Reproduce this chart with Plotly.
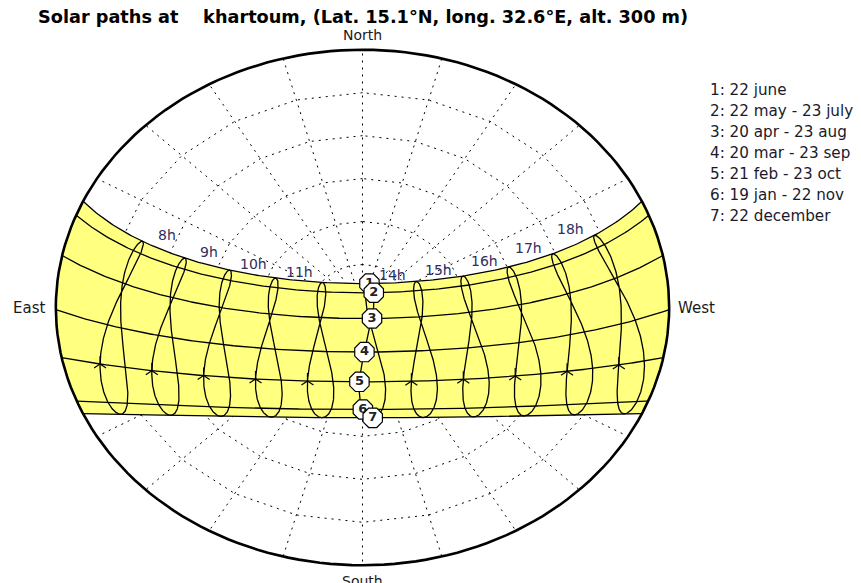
import numpy as np
import plotly.graph_objects as go

# ---------------- data ----------------
TITLE = "Solar paths at\u00a0\u00a0\u00a0 khartoum, (Lat. 15.1°N, long. 32.6°E, alt. 300 m)"
LATITUDE = 15.1          # deg N
LONGITUDE = 32.6         # deg E
TZ_MERIDIAN = 45.0       # legal time UTC+3
DATE_LABELS = ["1: 22 june", "2: 22 may - 23 july", "3: 20 apr - 23 aug",
               "4: 20 mar - 23 sep", "5: 21 feb - 23 oct", "6: 19 jan - 22 nov",
               "7: 22 december"]
DATE_NUMBERS = ["1", "2", "3", "4", "5", "6", "7"]
DATE_DAYS = [173, 142, 110, 79, 52, 19, 356]      # day of year of each path
HOURS = [8, 9, 10, 11, 12, 13, 14, 15, 16, 17, 18]  # legal time analemmas
HOUR_LABELS = {8: "8h", 9: "9h", 10: "10h", 11: "11h", 14: "14h",
               15: "15h", 16: "16h", 17: "17h", 18: "18h"}
MARKER_HOUR = 13
ARROW_DAY = 52
ALT_CIRCLES = [15, 30, 45, 60, 75]
AZ_LINES = list(range(0, 360, 15))
YEAR_DAYS = list(range(1, 366))

# ---------------- solar geometry ----------------
phi = np.radians(LATITUDE)

def decl(n):
    B = 2 * np.pi * (np.asarray(n, float) - 1) / 365.0
    return (0.006918 - 0.399912 * np.cos(B) + 0.070257 * np.sin(B)
            - 0.006758 * np.cos(2 * B) + 0.000907 * np.sin(2 * B)
            - 0.002697 * np.cos(3 * B) + 0.00148 * np.sin(3 * B))

def eot(n):
    B = 2 * np.pi * (np.asarray(n, float) - 1) / 365.0
    return 229.18 * (0.000075 + 0.001868 * np.cos(B) - 0.032077 * np.sin(B)
                     - 0.014615 * np.cos(2 * B) - 0.040849 * np.sin(2 * B))

def proj_sun(d, H):
    E = -np.cos(d) * np.sin(H)
    N = np.sin(d) * np.cos(phi) - np.cos(d) * np.cos(H) * np.sin(phi)
    U = np.sin(d) * np.sin(phi) + np.cos(d) * np.cos(H) * np.cos(phi)
    alt = np.degrees(np.arcsin(np.clip(U, -1, 1)))
    r = 90 - alt
    h = np.hypot(E, N)
    return -r * E / h, r * N / h

def proj_altaz(alt, az):
    r = 90 - np.asarray(alt, float)
    a = np.radians(az)
    return -r * np.sin(a), r * np.cos(a)

def legal_H(hour, n):
    solar = hour + (LONGITUDE - TZ_MERIDIAN) / 15.0 + eot(n) / 60.0
    return np.radians(15.0 * (solar - 12.0))

def day_path(n, k=241):
    d = decl(n)
    H0 = np.arccos(-np.tan(phi) * np.tan(d))
    H = np.linspace(-H0, H0, k)
    return proj_sun(d, H)

def rise_az(n):
    d = decl(n)
    return np.degrees(np.arccos(np.sin(d) / np.cos(phi)))

fig = go.Figure()
DOT = "2px,5px"

# grid (under the yellow band)
for alt in ALT_CIRCLES:
    az = np.arange(0, 361, 15)
    x, y = proj_altaz(np.full(az.shape, alt), az)
    fig.add_trace(go.Scatter(x=x, y=y, mode="lines",
                             line=dict(color="black", width=1, dash=DOT), hoverinfo="skip"))
for az in AZ_LINES:
    x, y = proj_altaz(np.array([90, 0]), np.array([az, az]))
    fig.add_trace(go.Scatter(x=x, y=y, mode="lines",
                             line=dict(color="black", width=1, dash=DOT), hoverinfo="skip"))

# yellow band between june and december paths
jx, jy = day_path(DATE_DAYS[0])
dx, dy = day_path(DATE_DAYS[-1])
azJ, azD = rise_az(DATE_DAYS[0]), rise_az(DATE_DAYS[-1])
az_r = np.linspace(360 - azJ, 360 - azD, 40)
hrx, hry = proj_altaz(np.zeros_like(az_r), az_r)
az_l = np.linspace(azD, azJ, 40)
hlx, hly = proj_altaz(np.zeros_like(az_l), az_l)
fx = np.concatenate([jx, hrx, dx[::-1], hlx])
fy = np.concatenate([jy, hry, dy[::-1], hly])
fig.add_trace(go.Scatter(x=fx, y=fy, mode="lines", fill="toself",
                         fillcolor="#ffff80", line=dict(width=0, color="#ffff80"),
                         hoverinfo="skip"))

# date paths
for n in DATE_DAYS:
    x, y = day_path(n)
    fig.add_trace(go.Scatter(x=x, y=y, mode="lines",
                             line=dict(color="black", width=1.3), hoverinfo="skip"))

# analemmas
days = np.array(YEAR_DAYS + [YEAR_DAYS[0]])
for hr in HOURS:
    x, y = proj_sun(decl(days), legal_H(hr, days))
    fig.add_trace(go.Scatter(x=x, y=y, mode="lines",
                             line=dict(color="black", width=1.3), hoverinfo="skip"))

# arrows
ax, ay = [], []
for hr in HOURS:
    x, y = proj_sun(decl(ARROW_DAY), legal_H(hr, ARROW_DAY))
    ax.append(float(x)); ay.append(float(y))
fig.add_trace(go.Scatter(x=ax, y=ay, mode="markers",
                         marker=dict(symbol="y-up", size=10,
                                     line=dict(color="black", width=1.2)),
                         hoverinfo="skip"))

# horizon
az = np.arange(0, 361, 2)
hx, hy = proj_altaz(np.zeros_like(az), az)
fig.add_trace(go.Scatter(x=hx, y=hy, mode="lines",
                         line=dict(color="black", width=2.6), hoverinfo="skip"))

# numbered markers
for n, lab in zip(DATE_DAYS, DATE_NUMBERS):
    x, y = proj_sun(decl(n), legal_H(MARKER_HOUR, n))
    fig.add_trace(go.Scatter(x=[float(x)], y=[float(y)], mode="markers+text",
                             text=["<b>" + lab + "</b>"], textposition="middle center",
                             textfont=dict(family="DejaVu Sans", size=13, color="#222"),
                             marker=dict(symbol="octagon", size=21, color="white",
                                         line=dict(color="black", width=1.2)),
                             hoverinfo="skip", cliponaxis=False))

FONT_FAMILY = "DejaVu Sans"
annotations = []
# hour labels
for hr, lab in HOUR_LABELS.items():
    x, y = proj_sun(decl(DATE_DAYS[0]), legal_H(hr, DATE_DAYS[0]))
    annotations.append(dict(x=float(x), y=float(y), xref="x", yref="y", text=lab,
                            showarrow=False, xshift=(24 if hr < 12 else -24), yshift=6,
                            font=dict(family=FONT_FAMILY, size=14, color="#2e2e60")))

FONT = dict(family=FONT_FAMILY, size=15, color="#1a1a1a")
annotations += [
    dict(x=0, y=92, xref="x", yref="y", text="North", showarrow=False,
         yanchor="bottom", yshift=-1, font=dict(family=FONT_FAMILY, size=14, color="#1a1a1a")),
    dict(x=0, y=-92, xref="x", yref="y", text="South", showarrow=False,
         yanchor="top", yshift=0, font=dict(family=FONT_FAMILY, size=14, color="#1a1a1a")),
    dict(x=-92, y=0, xref="x", yref="y", text="East", showarrow=False,
         xanchor="right", xshift=-2, font=FONT),
    dict(x=92, y=0, xref="x", yref="y", text="West", showarrow=False,
         xanchor="left", xshift=0, font=FONT),
]

# page body adds an 8 px offset; figure is sized to fit the window
OFF = 8
W, Hh = 861 - OFF, 583 - OFF
L, R, T, B = 49 - OFF, 185, 44 - OFF, 12
pw, ph = W - L - R, Hh - T - B
def px(xs): return (xs - OFF - L) / pw
def py(ys): return (Hh - B - (ys - OFF)) / ph

leg_y = [90, 111, 132, 153, 174, 195, 216]
for lab, yy in zip(DATE_LABELS, leg_y):
    annotations.append(dict(x=px(708), y=py(yy), xref="paper", yref="paper",
                            text=lab, showarrow=False, xanchor="left", yanchor="middle",
                            font=dict(family=FONT_FAMILY, size=15.2, color="#1a1a2a")))

fig.update_layout(
    width=W, height=Hh,
    margin=dict(l=L, r=R, t=T, b=B),
    paper_bgcolor="white", plot_bgcolor="white",
    showlegend=False,
    title=dict(text="<b>" + TITLE + "</b>", x=(38 - OFF) / W, xanchor="left",
               y=1 - (17 - OFF) / Hh, yanchor="middle",
               font=dict(family=FONT_FAMILY, size=17.7, color="black")),
    xaxis=dict(range=[-92, 92], visible=False, fixedrange=True),
    yaxis=dict(range=[-92, 92], visible=False, fixedrange=True),
    annotations=annotations,
)

fig.write_html("out.html")
